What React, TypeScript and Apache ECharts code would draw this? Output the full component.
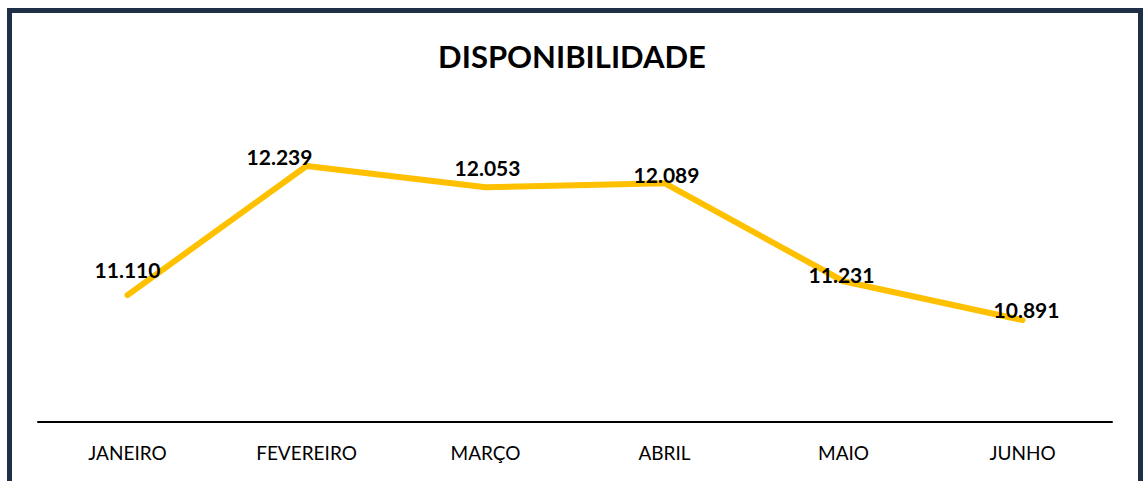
import React, { useEffect, useRef } from "react";
import * as echarts from "echarts";

const categories = ["JANEIRO", "FEVEREIRO", "MARÇO", "ABRIL", "MAIO", "JUNHO"];
const values = [11110, 12239, 12053, 12089, 11231, 10891];
const labelOffsets: [number, number][] = [
  [0, -26],
  [-27, -10],
  [2, -20],
  [2, -9],
  [-2, -7],
  [4, -11],
];

const fmt = (v: number) => {
  const s = String(Math.round(v));
  return s.replace(/\B(?=(\d{3})+(?!\d))/g, ".");
};

export default function App() {
  const ref = useRef<HTMLDivElement>(null);
  useEffect(() => {
    if (!ref.current) return;
    const chart = echarts.init(ref.current, undefined, { renderer: "svg" });
    chart.setOption({
      animation: false,
      backgroundColor: "#ffffff",
      title: {
        text: "DISPONIBILIDADE",
        left: "center",
        top: 35,
        textStyle: {
          fontFamily: "Lato",
          fontWeight: "bold",
          fontSize: 31,
          color: "#000000",
        },
      },
      graphic: [
        {
          type: "rect",
          shape: { x: 9.5, y: 10.5, width: 1131, height: 500 },
          style: { fill: "none", stroke: "#1F2F45", lineWidth: 5 },
          silent: true,
        },
      ],
      grid: { left: 38, right: 32, top: 79, bottom: 59 },
      xAxis: {
        type: "category",
        data: categories,
        boundaryGap: true,
        axisLine: { lineStyle: { color: "#000000", width: 2 } },
        axisTick: { show: false },
        axisLabel: {
          fontFamily: "Lato",
          fontSize: 19,
          color: "#000000",
          margin: 21,
        },
      },
      yAxis: {
        type: "value",
        min: 10000,
        max: 13000,
        show: false,
        splitLine: { show: false },
      },
      series: [
        {
          type: "line",
          data: values.map((v, i) => ({
            value: v,
            label: { offset: labelOffsets[i] },
          })),
          showSymbol: true,
          symbol: "circle",
          symbolSize: 2,
          itemStyle: { color: "#FFC000" },
          lineStyle: { color: "#FFC000", width: 6, cap: "round", join: "round" },
          label: {
            show: true,
            position: "inside",
            formatter: (p: any) => fmt(p.value),
            fontFamily: "Lato",
            fontWeight: "bold",
            fontSize: 21,
            color: "#000000",
          },
          z: 3,
        },
      ],
    });
    return () => chart.dispose();
  }, []);
  return (
    <div
      ref={ref}
      style={{ position: "fixed", left: 0, top: 0, width: 1144, height: 481 }}
    />
  );
}
